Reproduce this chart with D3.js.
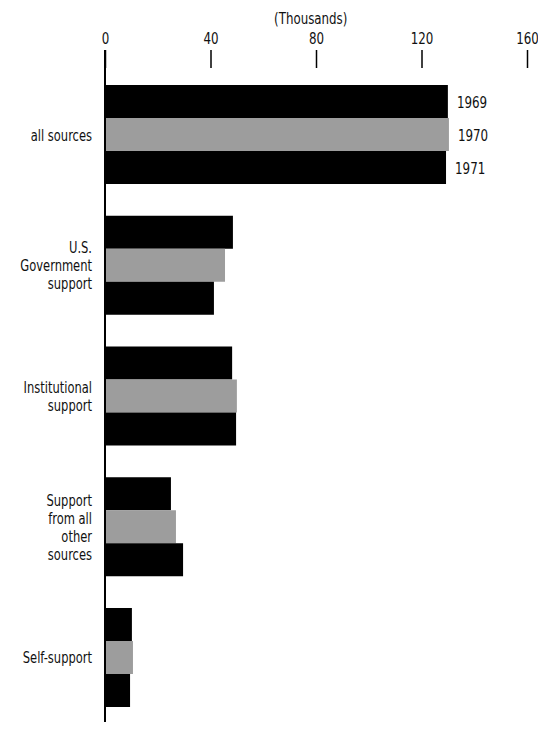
<!DOCTYPE html>
<html><head><meta charset="utf-8">
<script src="https://cdn.jsdelivr.net/npm/d3@7"></script>
<style>
html,body{margin:0;padding:0;background:#fff;}
svg{display:block;}
text{font-family:"DejaVu Sans Condensed","DejaVu Sans","Liberation Sans",sans-serif;fill:#111;}
</style></head>
<body>
<script>
const categories = [
  ["all sources"],
  ["U.S.", "Government", "support"],
  ["Institutional", "support"],
  ["Support", "from all", "other", "sources"],
  ["Self-support"]
];
const years = ["1969", "1970", "1971"];
const values1969 = [130.0, 48.5, 48.2, 25.0, 10.2];
const values1970 = [130.4, 45.5, 50.0, 26.9, 10.6];
const values1971 = [129.3, 41.3, 49.7, 29.6, 9.5];
const tickValues = [0, 40, 80, 120, 160];
const unitLabel = "(Thousands)";

const W = 538, H = 729;
const SX = 0.8; // horizontal condensing of text
const svg = d3.select("body").append("svg").attr("width", W).attr("height", H);

const x = d3.scaleLinear().domain([0, 160]).range([105, 527]);
const catKeys = categories.map(c => c.join(" "));
const y = d3.scaleBand().domain(catKeys).range([85, 707]).paddingInner(0.2428).paddingOuter(0);
const yInner = d3.scaleBand().domain(years).range([0, y.bandwidth()]).padding(0);

const rows = [];
catKeys.forEach((k, i) => {
  rows.push({cat: k, year: "1969", v: values1969[i], i});
  rows.push({cat: k, year: "1970", v: values1970[i], i});
  rows.push({cat: k, year: "1971", v: values1971[i], i});
});
const fill = {"1969": "#000", "1970": "#9d9d9d", "1971": "#000"};

svg.append("g").selectAll("rect").data(rows).enter().append("rect")
  .attr("x", x(0))
  .attr("y", d => y(d.cat) + yInner(d.year))
  .attr("width", d => x(d.v) - x(0))
  .attr("height", yInner.bandwidth())
  .attr("fill", d => fill[d.year]);

// axis line
svg.append("line").attr("x1", x(0)).attr("x2", x(0)).attr("y1", 50).attr("y2", 722)
  .attr("stroke", "#000").attr("stroke-width", 2);

// top axis
const ax = svg.append("g").attr("transform", "translate(0,68)")
  .call(d3.axisTop(x).tickValues(tickValues).tickSize(18).tickPadding(6));
ax.select(".domain").remove();
ax.selectAll(".tick line").attr("stroke", "#000").attr("stroke-width", 1.5);
ax.selectAll(".tick text").attr("font-size", 16.5).attr("font-family", null)
  .attr("transform", `scale(${SX},1)`).style("fill", "#111");

function label(px, py, anchor, size, sx, lines, lh) {
  const g = svg.append("g").attr("transform", `translate(${px},${py}) scale(${sx},1)`);
  const t = g.append("text").attr("text-anchor", anchor).attr("font-size", size);
  lines.forEach((ln, j) => t.append("tspan").attr("x", 0).attr("y", j * lh).text(ln));
}

label(x(78), 24, "middle", 15.5, 0.85, [unitLabel], 0);

// category labels
const lh = 18;
categories.forEach((lines, i) => {
  const cy = y(catKeys[i]) + y.bandwidth() / 2;
  const y0 = cy - (lines.length - 1) * lh / 2 + 6;
  label(92, y0, "end", 16, SX, lines, lh);
});

// year labels on first group
rows.filter(d => d.i === 0).forEach(d => {
  label(x(d.v) + 9, y(d.cat) + yInner(d.year) + yInner.bandwidth() / 2 + 6,
    "start", 16.5, SX, [d.year], 0);
});
</script>
</body></html>
